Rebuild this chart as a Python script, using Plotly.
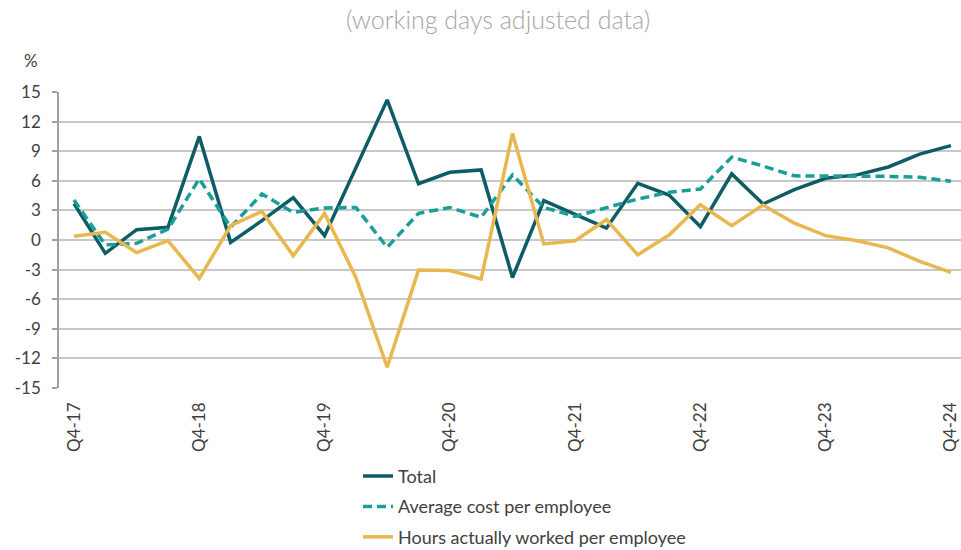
import plotly.graph_objects as go

# quarterly labels, Q4-17 .. Q4-24
periods = ["Q4-17"] + [f"{q}-{y}" for y in range(18, 25) for q in ["Q1", "Q2", "Q3", "Q4"]]

total = [3.7, -1.35, 1.05, 1.28, 10.5, -0.24, 1.96, 4.3, 0.44,
         7.4, 14.2, 5.7, 6.86, 7.1, -3.8, 4.0, 2.6, 1.2,
         5.74, 4.56, 1.35, 6.7, 3.65, 5.1, 6.25, 6.6, 7.4, 8.7, 9.56]
avg_cost = [4.05, -0.5, -0.34, 1.1, 6.2, 1.3, 4.66, 2.8, 3.25,
            3.3, -0.74, 2.7, 3.3, 2.3, 6.6, 3.3, 2.4, 3.3,
            4.15, 4.83, 5.17, 8.4, 7.5, 6.5, 6.5, 6.5, 6.45, 6.35, 5.95]
hours = [0.37, 0.78, -1.28, -0.07, -3.9, 1.45, 2.9, -1.6, 2.7,
         -3.8, -12.9, -3.04, -3.1, -3.95, 10.8, -0.4, -0.07, 2.06,
         -1.5, 0.5, 3.58, 1.45, 3.55, 1.7, 0.44, -0.07, -0.8, -2.16, -3.28]

y_ticks = list(range(-15, 16, 3))
y_ticktext = [str(v) for v in y_ticks]  # plain hyphen like the original
label_idx = [i for i, p in enumerate(periods) if p.startswith("Q4")]

FONT = "Lato, Open Sans, sans-serif"
x_idx = list(range(len(periods)))

fig = go.Figure()
fig.add_trace(go.Scatter(x=x_idx, y=total, mode="lines", name="Total",
                         legendgroup="a",
                         line=dict(color="#0E5C64", width=3.5)))
fig.add_trace(go.Scatter(x=x_idx, y=avg_cost, mode="lines", name="Average cost per employee",
                         legendgroup="b",
                         line=dict(color="#1A9E9A", width=3.5, dash="9px,5px")))
fig.add_trace(go.Scatter(x=x_idx, y=hours, mode="lines", name="Hours actually worked per employee",
                         legendgroup="c",
                         line=dict(color="#E8B74F", width=3.5)))

# a bit of room on the right so the last label is not cut
x_range = [-0.479, 28.32]

fig.update_layout(
    width=961, height=550,
    paper_bgcolor="white", plot_bgcolor="white",
    margin=dict(l=59, r=0, t=92, b=162, autoexpand=False),
    font=dict(family=FONT, size=17, color="#404040"),
    title=dict(text="(working days adjusted data)", x=(498 - 59) / 902, xref="paper",
               xanchor="center", y=1 - 11 / 550, yref="container", yanchor="top",
               font=dict(family=FONT, size=25, color="#A6A6A6", weight=300)),
    showlegend=True,
    legend=dict(orientation="v", x=(358 - 59) / 902, xanchor="left",
                y=-0.236, yanchor="top", tracegroupgap=4,
                font=dict(family=FONT, size=18, color="#404040"),
                bgcolor="rgba(0,0,0,0)"),
    xaxis=dict(range=x_range, tickmode="array", tickvals=label_idx,
               ticktext=[periods[i] for i in label_idx], tickangle=-90,
               showgrid=False, zeroline=False, showline=False, ticks="",
               ticklabelstandoff=10, ticklabeloverflow="allow", automargin=False),
    xaxis2=dict(range=x_range, overlaying="x", anchor="free", position=0.5,
                side="bottom", tickmode="array",
                tickvals=[i + 0.5 for i in x_idx[:-1]], showticklabels=False,
                ticks="outside", ticklen=6, tickwidth=1.5, tickcolor="#8C8C8C",
                showline=True, linecolor="#8C8C8C", linewidth=1.5,
                showgrid=False, zeroline=False, automargin=False),
    yaxis=dict(range=[-15, 15], tickmode="array", tickvals=y_ticks, ticktext=y_ticktext,
               showgrid=True, gridcolor="#C8C8C8", gridwidth=1.5,
               zeroline=False, showline=True, linecolor="#A0A0A0", linewidth=1.5,
               ticks="outside", ticklen=5, tickcolor="#A0A0A0", tickwidth=1.5,
               ticklabelstandoff=8, automargin=False),
    annotations=[dict(text="%", xref="paper", yref="paper", x=-0.031, y=1.108,
                      xanchor="center", yanchor="middle", showarrow=False,
                      font=dict(family=FONT, size=17, color="#404040"))],
)

# the page's default body margin would shift the figure by 8px
fig.write_html("out.html", config={"displayModeBar": False},
               post_script="document.body.style.margin='0';")
